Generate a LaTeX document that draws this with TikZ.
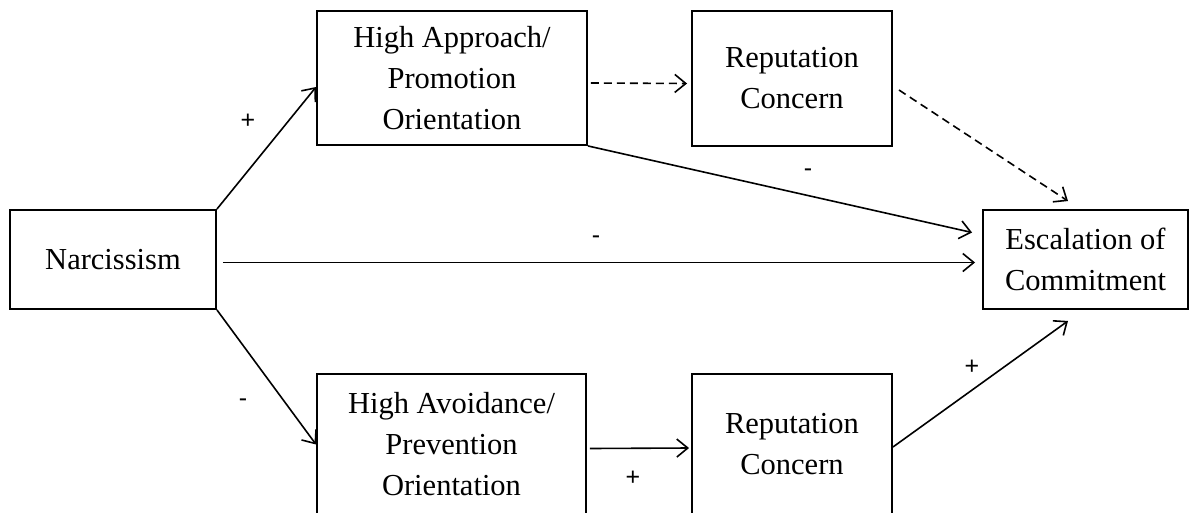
\documentclass[tikz,border=0pt]{standalone}
\usepackage{fontspec}
\setmainfont{Liberation Serif}
\newfontfamily\lblfont{Liberation Sans}
\usetikzlibrary{arrows.meta}
\begin{document}
\begin{tikzpicture}[x=1pt,y=-1pt,
  box/.style={draw,line width=1.9pt,rectangle,inner sep=0pt,align=center,
    font=\fontsize{30.5}{41}\selectfont},
  conn/.style={line width=1.6pt,-{Straight Barb[length=11pt,width=18pt,line width=1.6pt]}},
  dconn/.style={conn,dash pattern=on 8pt off 5pt},
  lbl/.style={inner sep=0pt,font=\lblfont\fontsize{25}{25}\selectfont}]
\useasboundingbox (0,0) rectangle (1189,512);
\clip (0,0) rectangle (1189,512);
\fill[white] (0,0) rectangle (1189,512);

\node[box,minimum width=206pt,minimum height=99pt] (narc) at (113,259.5) {Narcissism};
\node[box,minimum width=270pt,minimum height=134pt] (ha) at (452,78) {High Approach/\\Promotion\\Orientation};
\node[box,minimum width=200pt,minimum height=135pt] (rept) at (792,78.5) {Reputation\\Concern};
\node[box,minimum width=205pt,minimum height=99pt] (esc) at (1085.5,259.5) {Escalation of\\Commitment};
\node[box,minimum width=269pt,minimum height=141pt] (hav) at (451.5,444.5) {High Avoidance/\\Prevention\\Orientation};
\node[box,minimum width=200pt,minimum height=141pt] (repb) at (792,444.5) {Reputation\\Concern};

\draw[conn] (narc.north east) -- ([yshift=-9pt]ha.west);
\draw[conn] (narc.south east) -- (hav.west);
\draw[conn] ([xshift=6pt,yshift=-3pt]narc.east) -- ([xshift=-7pt,yshift=-3pt]esc.west);
\draw[conn] (ha.south east) -- ([xshift=-10pt,yshift=27pt]esc.west);
\draw[dconn] ([xshift=3pt,yshift=-5pt]ha.east) -- ([xshift=-4pt,yshift=-5pt]rept.west);
\draw[dconn] ([xshift=6pt,yshift=-11.5pt]rept.east) -- ([xshift=-17.5pt,yshift=8pt]esc.north);
\draw[conn] ([xshift=3pt,yshift=-4pt]hav.east) -- ([xshift=-2pt,yshift=-3.5pt]repb.west);
\draw[conn] ([yshift=-2.5pt]repb.east) -- ([xshift=-17.5pt,yshift=-11pt]esc.south);

\node[lbl] (l1) at (248,121) {+};
\node[lbl] (l2) at (808,173) {-};
\node[lbl] (l3) at (596,240) {-};
\node[lbl] (l4) at (243,403) {-};
\node[lbl] (l5) at (633,478) {+};
\node[lbl] (l6) at (972,367) {+};
\end{tikzpicture}
\end{document}
